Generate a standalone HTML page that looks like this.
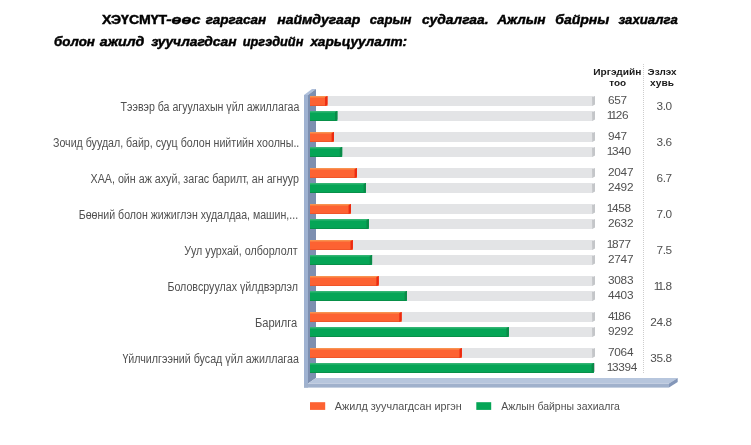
<!DOCTYPE html>
<html><head><meta charset="utf-8"><style>
html,body{margin:0;padding:0;background:#fff;}
body{width:751px;height:445px;overflow:hidden;position:relative;}
svg{position:absolute;left:0;top:0;}
text{font-family:"Liberation Sans",sans-serif;}
.tb{font-size:13.5px;font-weight:bold;fill:#000;stroke:#000;stroke-width:0.45px;}
.ti{font-size:13.5px;font-weight:bold;font-style:italic;fill:#000;stroke:#000;stroke-width:0.45px;}
.lab{font-size:12.0px;fill:#505050;}
.num{font-size:11.8px;fill:#505050;}
.hd{font-size:8.3px;font-weight:bold;fill:#1a1a1a;}
.leg{font-size:10.5px;fill:#505050;}
</style></head><body>
<svg width="751" height="445" viewBox="0 0 751 445">
<text id="f0" class="tb" x="101.98" y="23.9" textLength="65.27" lengthAdjust="spacingAndGlyphs">ХЭҮСМҮТ</text>
<text id="f1" class="ti" x="166.17" y="23.9" textLength="34.28" lengthAdjust="spacingAndGlyphs">-өөс</text>
<text id="f2" class="ti" x="205.80" y="23.9" textLength="60.36" lengthAdjust="spacingAndGlyphs">гаргасан</text>
<text id="f3" class="ti" x="277.20" y="23.9" textLength="83.06" lengthAdjust="spacingAndGlyphs">наймдугаар</text>
<text id="f4" class="ti" x="369.80" y="23.9" textLength="41.76" lengthAdjust="spacingAndGlyphs">сарын</text>
<text id="f5" class="ti" x="422.00" y="23.9" textLength="66.57" lengthAdjust="spacingAndGlyphs">судалгаа.</text>
<text id="f6" class="ti" x="497.21" y="23.9" textLength="48.35" lengthAdjust="spacingAndGlyphs">Ажлын</text>
<text id="f7" class="ti" x="555.20" y="23.9" textLength="54.12" lengthAdjust="spacingAndGlyphs">байрны</text>
<text id="f8" class="ti" x="618.40" y="23.9" textLength="59.33" lengthAdjust="spacingAndGlyphs">захиалга</text>
<text id="f9" class="ti" x="54.00" y="45.8" textLength="40.97" lengthAdjust="spacingAndGlyphs">болон</text>
<text id="f10" class="ti" x="99.79" y="45.8" textLength="44.59" lengthAdjust="spacingAndGlyphs">ажилд</text>
<text id="f11" class="ti" x="151.20" y="45.8" textLength="85.36" lengthAdjust="spacingAndGlyphs">зуучлагдсан</text>
<text id="f12" class="ti" x="242.79" y="45.8" textLength="60.56" lengthAdjust="spacingAndGlyphs">иргэдийн</text>
<text id="f13" class="ti" x="310.40" y="45.8" textLength="96.71" lengthAdjust="spacingAndGlyphs">харьцуулалт:</text>
<path d="M304 95 L312 89 L316 89 L308 95 Z" fill="#aebfdb"/>
<rect x="304" y="95" width="4" height="292.6" fill="#9fb2d1"/>
<path d="M308 95 L316 89 L316 378 L308 383.6 Z" fill="#7d8fb0"/>
<path d="M308 383.6 L316 378 L677.7 378 L669 383.6 Z" fill="#b7c6dd"/>
<rect x="304" y="383.6" width="365" height="4" fill="#a0b1cc"/>
<path d="M669 383.6 L677.7 378 L677.7 382 L669 387.6 Z" fill="#8396b8"/>
<rect x="316" y="96" width="277" height="10" fill="#e3e4e6"/>
<path d="M592 97 L595 96 L595 104.6 L592.3 106 Z" fill="#c4c6c9"/>
<rect x="316" y="111" width="277" height="10" fill="#e3e4e6"/>
<path d="M592 112 L595 111 L595 119.6 L592.3 121 Z" fill="#c4c6c9"/>
<rect x="310" y="96" width="17.50" height="10" fill="#fd6232"/>
<rect x="310" y="96" width="16.50" height="1.5" fill="#f8924f"/>
<rect x="310" y="105" width="16.50" height="1" fill="#f0552a"/>
<path d="M325.10 97 L327.50 96 L327.50 104.6 L325.10 106 Z" fill="#ec2a10"/>
<rect x="310" y="111" width="27.40" height="10" fill="#05a556"/>
<rect x="310" y="111" width="26.40" height="1.5" fill="#34b574"/>
<rect x="310" y="120" width="26.40" height="1" fill="#089049"/>
<path d="M335.00 112 L337.40 111 L337.40 119.6 L335.00 121 Z" fill="#0a8a48"/>
<text id="f14" class="lab" x="120.60" y="110.7" textLength="178.72" lengthAdjust="spacingAndGlyphs">Тээвэр ба агуулахын үйл ажиллагаа</text>
<text class="num" x="608.00 614.30 620.60" y="103.8">657</text>
<text class="num" x="606.67 610.57 615.80 622.10" y="118.8">1126</text>
<text class="num" x="656.50 662.80 665.40" y="110.4">3.0</text>
<rect x="316" y="132" width="277" height="10" fill="#e3e4e6"/>
<path d="M592 133 L595 132 L595 140.6 L592.3 142 Z" fill="#c4c6c9"/>
<rect x="316" y="147" width="277" height="10" fill="#e3e4e6"/>
<path d="M592 148 L595 147 L595 155.6 L592.3 157 Z" fill="#c4c6c9"/>
<rect x="310" y="132" width="24.00" height="10" fill="#fd6232"/>
<rect x="310" y="132" width="23.00" height="1.5" fill="#f8924f"/>
<rect x="310" y="141" width="23.00" height="1" fill="#f0552a"/>
<path d="M331.60 133 L334.00 132 L334.00 140.6 L331.60 142 Z" fill="#ec2a10"/>
<rect x="310" y="147" width="32.20" height="10" fill="#05a556"/>
<rect x="310" y="147" width="31.20" height="1.5" fill="#34b574"/>
<rect x="310" y="156" width="31.20" height="1" fill="#089049"/>
<path d="M339.80 148 L342.20 147 L342.20 155.6 L339.80 157 Z" fill="#0a8a48"/>
<text id="f15" class="lab" x="52.99" y="146.7" textLength="246.31" lengthAdjust="spacingAndGlyphs">Зочид буудал, байр, сууц болон нийтийн хоолны..</text>
<text class="num" x="608.00 614.30 620.60" y="139.8">947</text>
<text class="num" x="606.67 611.90 618.20 624.50" y="154.8">1340</text>
<text class="num" x="656.50 662.80 665.40" y="146.4">3.6</text>
<rect x="316" y="168" width="277" height="10" fill="#e3e4e6"/>
<path d="M592 169 L595 168 L595 176.6 L592.3 178 Z" fill="#c4c6c9"/>
<rect x="316" y="183" width="277" height="10" fill="#e3e4e6"/>
<path d="M592 184 L595 183 L595 191.6 L592.3 193 Z" fill="#c4c6c9"/>
<rect x="310" y="168" width="47.00" height="10" fill="#fd6232"/>
<rect x="310" y="168" width="46.00" height="1.5" fill="#f8924f"/>
<rect x="310" y="177" width="46.00" height="1" fill="#f0552a"/>
<path d="M354.60 169 L357.00 168 L357.00 176.6 L354.60 178 Z" fill="#ec2a10"/>
<rect x="310" y="183" width="56.00" height="10" fill="#05a556"/>
<rect x="310" y="183" width="55.00" height="1.5" fill="#34b574"/>
<rect x="310" y="192" width="55.00" height="1" fill="#089049"/>
<path d="M363.60 184 L366.00 183 L366.00 191.6 L363.60 193 Z" fill="#0a8a48"/>
<text id="f16" class="lab" x="90.59" y="182.7" textLength="208.33" lengthAdjust="spacingAndGlyphs">ХАА, ойн аж ахуй, загас барилт, ан агнуур</text>
<text class="num" x="608.00 614.30 620.60 626.90" y="175.8">2047</text>
<text class="num" x="608.00 614.30 620.60 626.90" y="190.8">2492</text>
<text class="num" x="656.50 662.80 665.40" y="182.4">6.7</text>
<rect x="316" y="204" width="277" height="10" fill="#e3e4e6"/>
<path d="M592 205 L595 204 L595 212.6 L592.3 214 Z" fill="#c4c6c9"/>
<rect x="316" y="219" width="277" height="10" fill="#e3e4e6"/>
<path d="M592 220 L595 219 L595 227.6 L592.3 229 Z" fill="#c4c6c9"/>
<rect x="310" y="204" width="41.00" height="10" fill="#fd6232"/>
<rect x="310" y="204" width="40.00" height="1.5" fill="#f8924f"/>
<rect x="310" y="213" width="40.00" height="1" fill="#f0552a"/>
<path d="M348.60 205 L351.00 204 L351.00 212.6 L348.60 214 Z" fill="#ec2a10"/>
<rect x="310" y="219" width="58.90" height="10" fill="#05a556"/>
<rect x="310" y="219" width="57.90" height="1.5" fill="#34b574"/>
<rect x="310" y="228" width="57.90" height="1" fill="#089049"/>
<path d="M366.50 220 L368.90 219 L368.90 227.6 L366.50 229 Z" fill="#0a8a48"/>
<text id="f17" class="lab" x="78.79" y="218.7" textLength="219.31" lengthAdjust="spacingAndGlyphs">Бөөний болон жижиглэн худалдаа, машин,...</text>
<text class="num" x="606.67 611.90 618.20 624.50" y="211.8">1458</text>
<text class="num" x="608.00 614.30 620.60 626.90" y="226.8">2632</text>
<text class="num" x="656.50 662.80 665.40" y="218.4">7.0</text>
<rect x="316" y="240" width="277" height="10" fill="#e3e4e6"/>
<path d="M592 241 L595 240 L595 248.6 L592.3 250 Z" fill="#c4c6c9"/>
<rect x="316" y="255" width="277" height="10" fill="#e3e4e6"/>
<path d="M592 256 L595 255 L595 263.6 L592.3 265 Z" fill="#c4c6c9"/>
<rect x="310" y="240" width="42.90" height="10" fill="#fd6232"/>
<rect x="310" y="240" width="41.90" height="1.5" fill="#f8924f"/>
<rect x="310" y="249" width="41.90" height="1" fill="#f0552a"/>
<path d="M350.50 241 L352.90 240 L352.90 248.6 L350.50 250 Z" fill="#ec2a10"/>
<rect x="310" y="255" width="62.10" height="10" fill="#05a556"/>
<rect x="310" y="255" width="61.10" height="1.5" fill="#34b574"/>
<rect x="310" y="264" width="61.10" height="1" fill="#089049"/>
<path d="M369.70 256 L372.10 255 L372.10 263.6 L369.70 265 Z" fill="#0a8a48"/>
<text id="f18" class="lab" x="184.18" y="254.7" textLength="113.39" lengthAdjust="spacingAndGlyphs">Уул уурхай, олборлолт</text>
<text class="num" x="606.67 611.90 618.20 624.50" y="247.8">1877</text>
<text class="num" x="608.00 614.30 620.60 626.90" y="262.8">2747</text>
<text class="num" x="656.50 662.80 665.40" y="254.4">7.5</text>
<rect x="316" y="276" width="277" height="10" fill="#e3e4e6"/>
<path d="M592 277 L595 276 L595 284.6 L592.3 286 Z" fill="#c4c6c9"/>
<rect x="316" y="291" width="277" height="10" fill="#e3e4e6"/>
<path d="M592 292 L595 291 L595 299.6 L592.3 301 Z" fill="#c4c6c9"/>
<rect x="310" y="276" width="68.80" height="10" fill="#fd6232"/>
<rect x="310" y="276" width="67.80" height="1.5" fill="#f8924f"/>
<rect x="310" y="285" width="67.80" height="1" fill="#f0552a"/>
<path d="M376.40 277 L378.80 276 L378.80 284.6 L376.40 286 Z" fill="#ec2a10"/>
<rect x="310" y="291" width="97.00" height="10" fill="#05a556"/>
<rect x="310" y="291" width="96.00" height="1.5" fill="#34b574"/>
<rect x="310" y="300" width="96.00" height="1" fill="#089049"/>
<path d="M404.60 292 L407.00 291 L407.00 299.6 L404.60 301 Z" fill="#0a8a48"/>
<text id="f19" class="lab" x="167.39" y="290.7" textLength="130.63" lengthAdjust="spacingAndGlyphs">Боловсруулах үйлдвэрлэл</text>
<text class="num" x="608.00 614.30 620.60 626.90" y="283.8">3083</text>
<text class="num" x="608.00 614.30 620.60 626.90" y="298.8">4403</text>
<text class="num" x="653.67 657.57 662.80 665.40" y="290.4">11.8</text>
<rect x="316" y="312" width="277" height="10" fill="#e3e4e6"/>
<path d="M592 313 L595 312 L595 320.6 L592.3 322 Z" fill="#c4c6c9"/>
<rect x="316" y="327" width="277" height="10" fill="#e3e4e6"/>
<path d="M592 328 L595 327 L595 335.6 L592.3 337 Z" fill="#c4c6c9"/>
<rect x="310" y="312" width="91.70" height="10" fill="#fd6232"/>
<rect x="310" y="312" width="90.70" height="1.5" fill="#f8924f"/>
<rect x="310" y="321" width="90.70" height="1" fill="#f0552a"/>
<path d="M399.30 313 L401.70 312 L401.70 320.6 L399.30 322 Z" fill="#ec2a10"/>
<rect x="310" y="327" width="198.90" height="10" fill="#05a556"/>
<rect x="310" y="327" width="197.90" height="1.5" fill="#34b574"/>
<rect x="310" y="336" width="197.90" height="1" fill="#089049"/>
<path d="M506.50 328 L508.90 327 L508.90 335.6 L506.50 337 Z" fill="#0a8a48"/>
<text id="f20" class="lab" x="254.96" y="326.7" textLength="42.34" lengthAdjust="spacingAndGlyphs">Барилга</text>
<text class="num" x="608.00 612.97 618.20 624.50" y="319.8">4186</text>
<text class="num" x="608.00 614.30 620.60 626.90" y="334.8">9292</text>
<text class="num" x="650.20 656.50 662.80 665.40" y="326.4">24.8</text>
<rect x="316" y="348" width="277" height="10" fill="#e3e4e6"/>
<path d="M592 349 L595 348 L595 356.6 L592.3 358 Z" fill="#c4c6c9"/>
<rect x="316" y="363" width="277" height="10" fill="#e3e4e6"/>
<path d="M592 364 L595 363 L595 371.6 L592.3 373 Z" fill="#c4c6c9"/>
<rect x="310" y="348" width="151.90" height="10" fill="#fd6232"/>
<rect x="310" y="348" width="150.90" height="1.5" fill="#f8924f"/>
<rect x="310" y="357" width="150.90" height="1" fill="#f0552a"/>
<path d="M459.50 349 L461.90 348 L461.90 356.6 L459.50 358 Z" fill="#ec2a10"/>
<rect x="310" y="363" width="284.00" height="10" fill="#05a556"/>
<rect x="310" y="363" width="283.00" height="1.5" fill="#34b574"/>
<rect x="310" y="372" width="283.00" height="1" fill="#089049"/>
<path d="M591.60 364 L594.00 363 L594.00 371.6 L591.60 373 Z" fill="#0a8a48"/>
<text id="f21" class="lab" x="122.39" y="362.7" textLength="176.52" lengthAdjust="spacingAndGlyphs">Үйлчилгээний бусад үйл ажиллагаа</text>
<text class="num" x="608.00 614.30 620.60 626.90" y="355.8">7064</text>
<text class="num" x="606.67 611.90 618.20 624.50 630.80" y="370.8">13394</text>
<text class="num" x="650.20 656.50 662.80 665.40" y="362.4">35.8</text>
<line x1="643.5" y1="64" x2="643.5" y2="373" stroke="#cdcdcd" stroke-width="1" stroke-dasharray="1 1"/>
<text id="f22" class="hd" x="593.16" y="74.8" textLength="48.28" lengthAdjust="spacingAndGlyphs">Иргэдийн</text>
<text id="f23" class="hd" x="609.18" y="86" textLength="16.91" lengthAdjust="spacingAndGlyphs">тоо</text>
<text id="f24" class="hd" x="647.58" y="74.8" textLength="29.01" lengthAdjust="spacingAndGlyphs">Эзлэх</text>
<text id="f25" class="hd" x="649.95" y="86" textLength="24.02" lengthAdjust="spacingAndGlyphs">хувь</text>
<rect x="310" y="402.2" width="15.2" height="7.7" fill="#fd6232"/>
<text id="f26" class="leg" x="334.80" y="410.1" textLength="127.01" lengthAdjust="spacingAndGlyphs">Ажилд зуучлагдсан иргэн</text>
<rect x="476.3" y="402.2" width="14.9" height="7.7" fill="#05a556"/>
<text id="f27" class="leg" x="501.20" y="410.1" textLength="118.64" lengthAdjust="spacingAndGlyphs">Ажлын байрны захиалга</text>
</svg>
</body></html>
